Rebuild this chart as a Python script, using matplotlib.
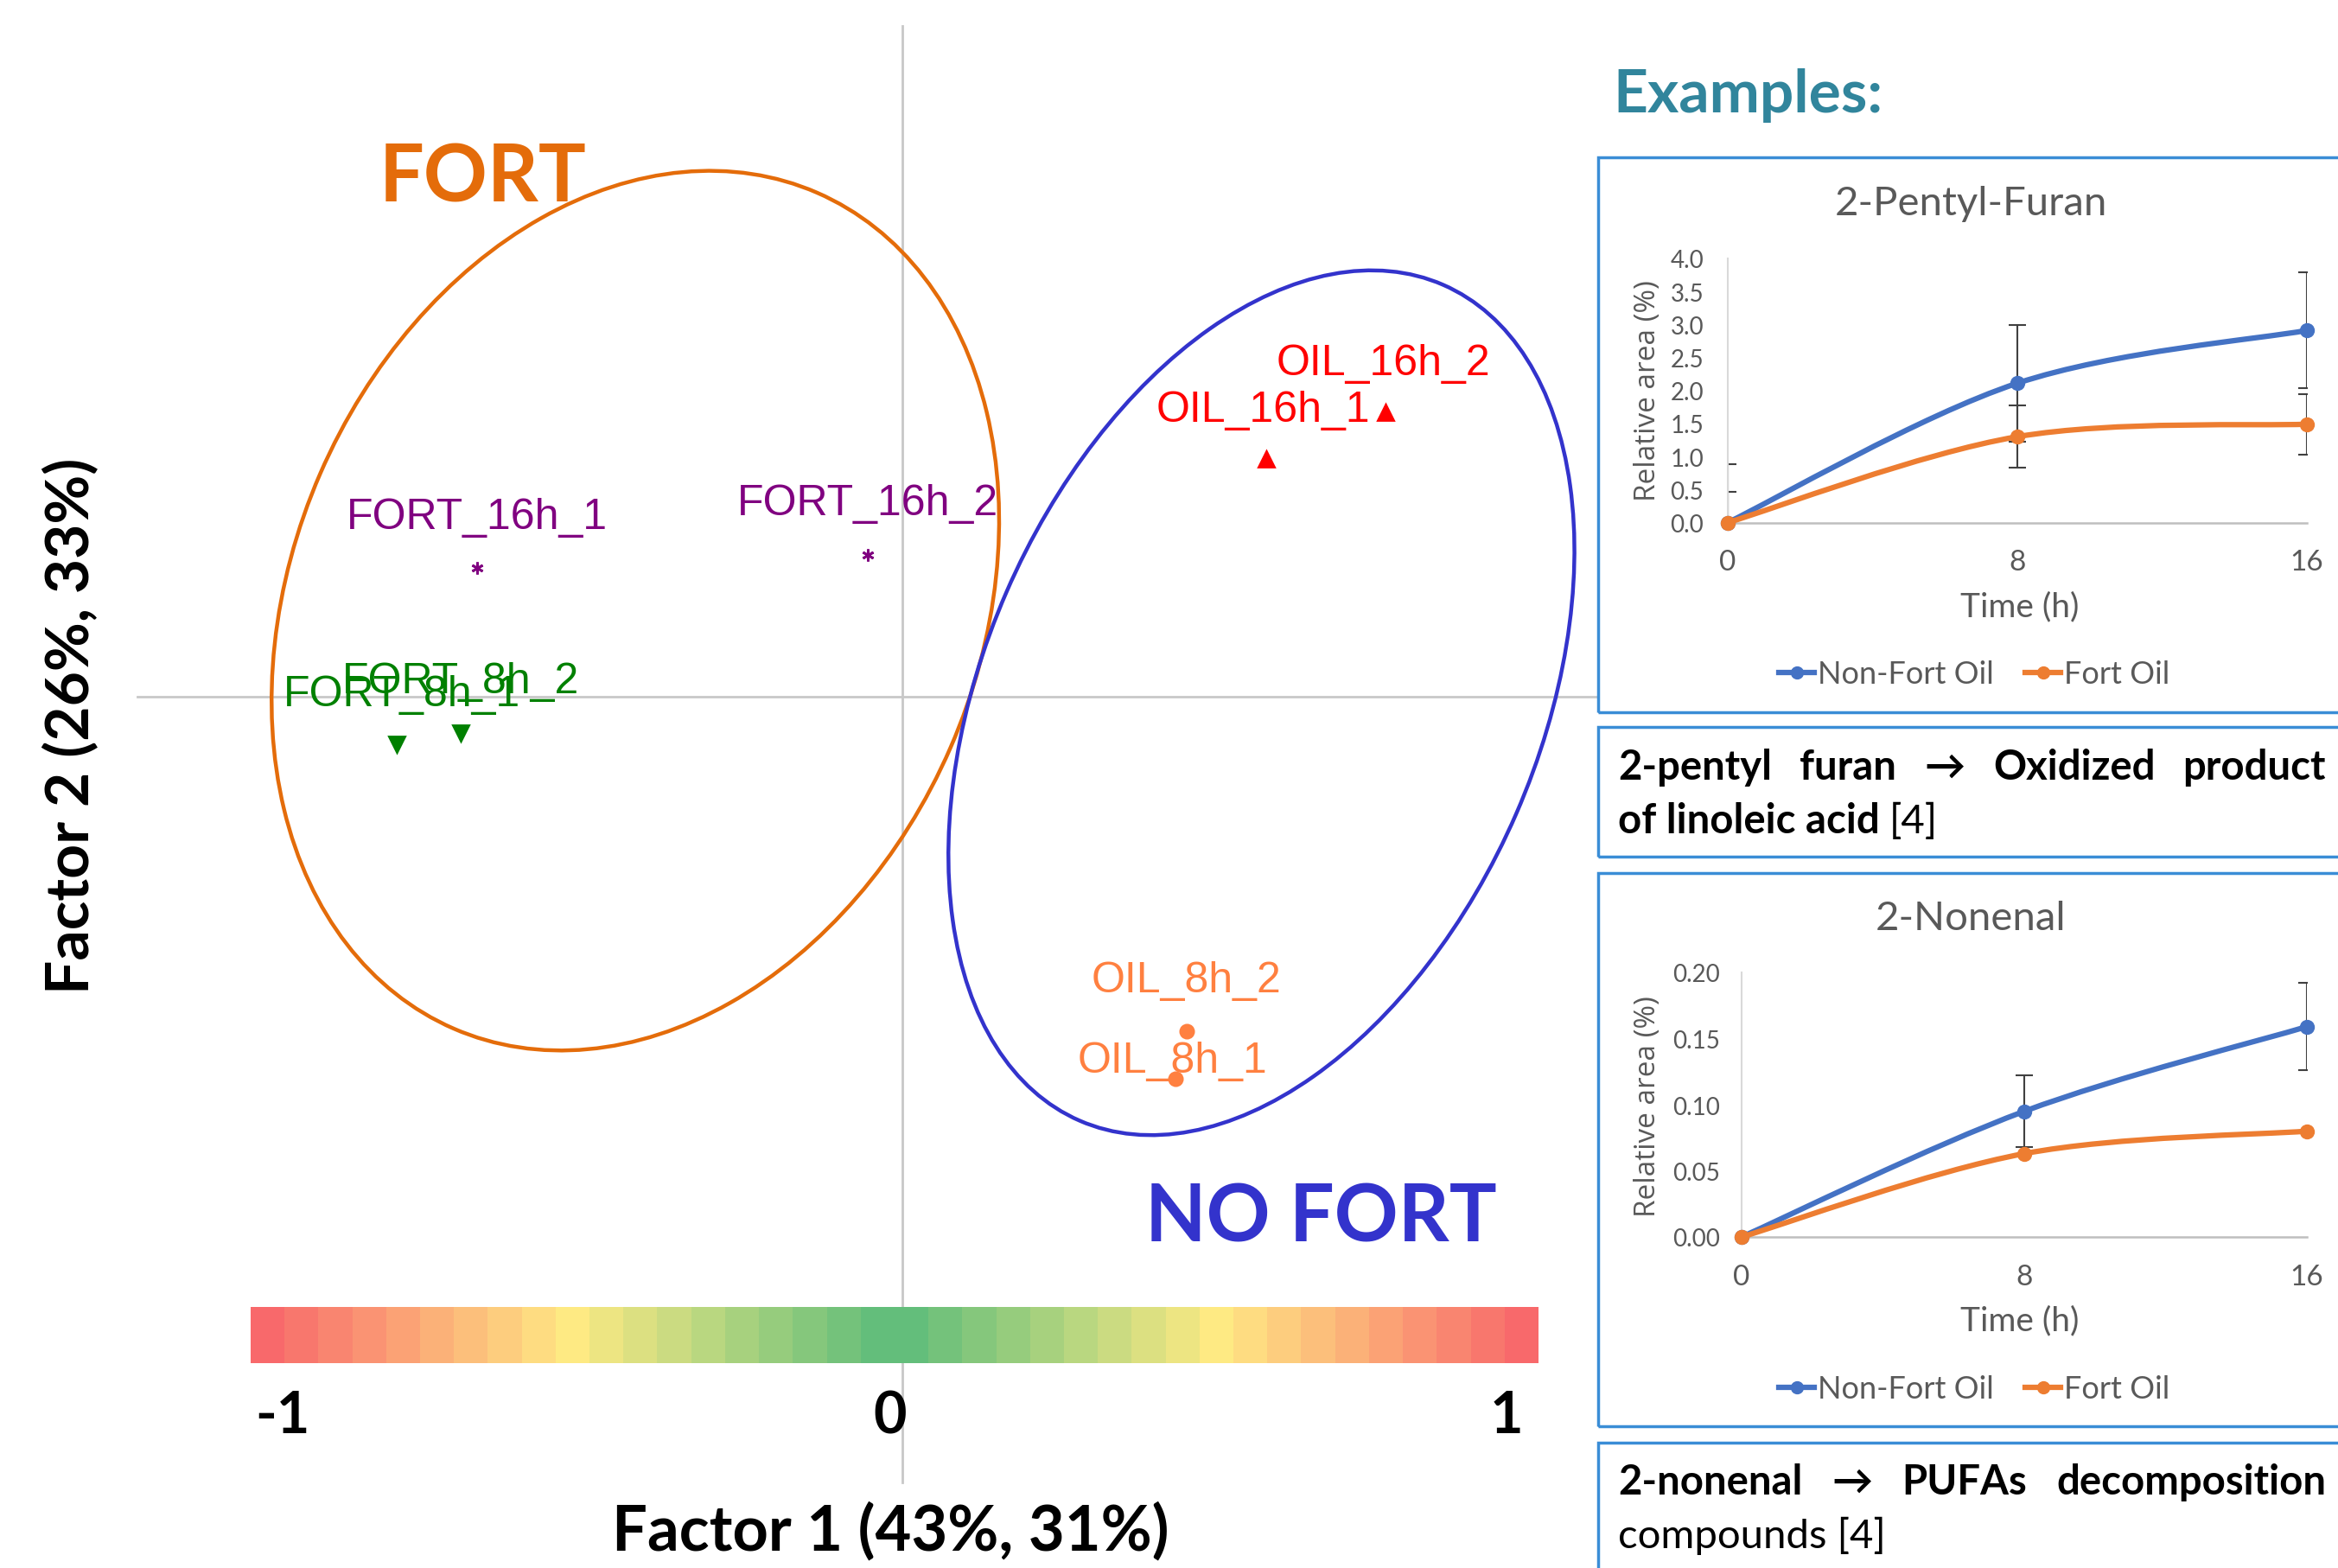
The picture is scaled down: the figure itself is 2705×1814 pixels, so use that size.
import numpy as np
import matplotlib
matplotlib.use("Agg")
import matplotlib.pyplot as plt
from matplotlib.patches import Ellipse, Rectangle, PathPatch
from matplotlib.path import Path
from matplotlib.lines import Line2D
from matplotlib.colors import LinearSegmentedColormap

# figure size in pixels (dpi 100)
W, H = 2705, 1815

# PCA scores of the samples (Factor 1, Factor 2)
sample_names = ["FORT_16h_1", "FORT_16h_2", "FORT_8h_1", "FORT_8h_2",
                "OIL_16h_1", "OIL_16h_2", "OIL_8h_1", "OIL_8h_2"]
sample_groups = ["FORT_16h", "FORT_16h", "FORT_8h", "FORT_8h",
                 "OIL_16h", "OIL_16h", "OIL_8h", "OIL_8h"]
factor1 = [-0.660, -0.053, -0.785, -0.685, 0.565, 0.750, 0.424, 0.442]
factor2 = [0.201, 0.220, -0.074, -0.056, 0.370, 0.442, -0.593, -0.519]

# group ellipses: centre, axis lengths, rotation
ellipse_names = ["FORT", "NO FORT"]
ellipse_cx = [-0.414, 0.558]
ellipse_cy = [0.134, -0.009]
ellipse_major = [1.415, 1.415]
ellipse_minor = [1.067, 0.863]
ellipse_angle = [66.5, 66.5]

# colour scale under the map
scale_labels = ["-1", "0", "1"]

# example compounds (relative area, %)
time_h = [0, 8, 16]
furan_nonfort = [0.0, 2.11, 2.91]
furan_fort = [0.0, 1.30, 1.49]
furan_nonfort_err = [0.88, 0.88, 0.88]
furan_fort_err = [0.47, 0.47, 0.46]
nonenal_nonfort = [0.0, 0.095, 0.159]
nonenal_fort = [0.0, 0.063, 0.080]
nonenal_nonfort_err = [0.0, 0.027, 0.033]
nonenal_fort_err = [0.0, 0.0, 0.0]

BLUE = "#4472C4"
ORANGE = "#ED7D31"
GREY_TXT = "#595959"
BOX = "#3A8DD6"


def fx(px):
    return px / W


def fy(py):
    return 1 - py / H


def smooth_path(x, y):
    # excel-like smoothed line: bezier segments through the data points
    pts = np.column_stack([x, y]).astype(float)
    n = len(pts)
    verts = [pts[0]]
    codes = [Path.MOVETO]
    for i in range(n - 1):
        p0 = pts[max(i - 1, 0)]
        p1 = pts[i]
        p2 = pts[i + 1]
        p3 = pts[min(i + 2, n - 1)]
        verts += [p1 + (p2 - p0) / 6, p2 - (p3 - p1) / 6, p2]
        codes += [Path.CURVE4] * 3
    return Path(verts, codes)


def draw_pca(fig):
    # origin of the map in pixels and pixels per unit
    ox, oy, scale = 1043.6, 807.3, 745.2
    ax = fig.add_axes([0, 0, fx(1849), 1])
    ax.set_xlim((0 - ox) / scale, (1849 - ox) / scale)
    ax.set_ylim((oy - H) / scale, oy / scale)
    ax.axis("off")

    # axis cross
    ax.plot([-1.1875, 1.2], [0, 0], color="#C8C8C8", lw=2, zorder=1)
    ax.plot([0, 0], [1.042, -1.22], color="#C8C8C8", lw=2, zorder=1)

    ell_colors = ["#E46C0A", "#3333CC"]
    for i in range(len(ellipse_names)):
        e = Ellipse((ellipse_cx[i], ellipse_cy[i]), ellipse_major[i], ellipse_minor[i],
                    angle=ellipse_angle[i], fill=False, edgecolor=ell_colors[i], lw=3.2, zorder=2)
        ax.add_patch(e)

    style = {"FORT_16h": ("#800080", (6, 2, 0), 10),
             "FORT_8h": ("#008000", "v", 13),
             "OIL_16h": ("#FF0000", "^", 13),
             "OIL_8h": ("#FF8040", "o", 11)}
    # label offsets in pixels (the two FORT_8h labels overlap, as in the source)
    label_dx = [0, 0, 6, 0, -3, -2, -3, 0]
    label_dy = [59, 60, 58, 60, 57, 57, 21, 59]
    for i, name in enumerate(sample_names):
        col, mk, ms = style[sample_groups[i]]
        ax.plot(factor1[i], factor2[i], marker=mk, color=col, ms=ms, mew=2, ls="none", zorder=3)
        ax.annotate(name, (factor1[i], factor2[i]), xytext=(label_dx[i], label_dy[i]),
                    textcoords="offset pixels", ha="center", va="center", color=col,
                    fontsize=36, family="Liberation Sans", zorder=4)

    fig.text(fx(559), fy(207), ellipse_names[0], color="#E46C0A", fontsize=66,
             fontweight="bold", ha="center", va="center")
    fig.text(fx(1528), fy(1411), ellipse_names[1], color="#3333CC", fontsize=66,
             fontweight="bold", ha="center", va="center")

    fig.text(fx(1030), fy(1772), "Factor 1 (43%, 31%)", fontsize=52, fontweight="bold",
             ha="center", va="center")
    fig.text(fx(83), fy(840), "Factor 2 (26%, 33%)", fontsize=50, fontweight="bold",
             ha="center", va="center", rotation=90)


def draw_scale(fig):
    cmap = LinearSegmentedColormap.from_list("rg", ["#63BE7B", "#FFEB84", "#F8696B"])
    cax = fig.add_axes([fx(290), fy(1578), (1780 - 290) / W, 65 / H])
    # 38 blocks, green in the middle, red at both ends
    blocks = np.abs(np.arange(38) - 18.5) - 0.5
    cax.imshow(blocks[None, :], cmap=cmap, vmin=0, vmax=18, extent=[-1, 1, 0, 1],
               aspect="auto", interpolation="nearest")
    cax.set_xlim(-1, 1)
    cax.axis("off")
    pos = [-0.95, -0.007, 0.95]
    for p, lab in zip(pos, scale_labels):
        cax.text(p, -0.94, lab, transform=cax.get_xaxis_transform(), ha="center",
                 va="center", fontsize=48, fontweight="bold")


def draw_inset(fig, rect, title, title_y, ylim, yticks, yfmt,
               nonfort, fort, nonfort_err, fort_err, label_y, xlabel_y, legend_y, ypad):
    ax = fig.add_axes(rect)
    ax.set_facecolor("none")
    ax.set_xlim(0, 16)
    ax.set_ylim(*ylim)
    ax.set_xticks(time_h)
    ax.set_yticks(yticks)
    ax.set_yticklabels([yfmt % v for v in yticks])
    for s in ["top", "right"]:
        ax.spines[s].set_visible(False)
    ax.spines["left"].set_color("#D9D9D9")
    ax.spines["bottom"].set_color("#BFBFBF")
    ax.spines["left"].set_linewidth(1.5)
    ax.spines["bottom"].set_linewidth(1.8)
    ax.tick_params(axis="both", length=0, colors=GREY_TXT)
    ax.tick_params(axis="y", labelsize=20, pad=ypad)
    ax.tick_params(axis="x", labelsize=24, pad=22)

    # error bars first, then smoothed lines and markers
    if any(nonfort_err):
        ax.errorbar(time_h, nonfort, yerr=nonfort_err, fmt="none", ecolor="#404040",
                    elinewidth=1.5, capsize=7, capthick=1.5, zorder=2)
    if any(fort_err):
        ax.errorbar(time_h, fort, yerr=fort_err, fmt="none", ecolor="#404040",
                    elinewidth=1.5, capsize=7, capthick=1.5, zorder=2)
    for vals, col, z in [(nonfort, BLUE, 3), (fort, ORANGE, 4)]:
        ax.add_patch(PathPatch(smooth_path(time_h, vals), fill=False, edgecolor=col,
                               lw=4.5, capstyle="round", clip_on=False, zorder=z))
        ax.plot(time_h, vals, "o", color=col, ms=11.5, clip_on=False, zorder=z + 0.5)

    fig.text(fx(2280), fy(title_y), title, fontsize=34, color=GREY_TXT, ha="center", va="center")
    fig.text(fx(1906), fy(label_y), "Relative area (%)", fontsize=24, color=GREY_TXT,
             family="Open Sans", rotation=90, ha="center", va="center")
    fig.text(fx(2337), fy(xlabel_y), "Time (h)", fontsize=28, color=GREY_TXT,
             ha="center", va="center")

    handles = [Line2D([], [], color=BLUE, lw=4.5, marker="o", ms=10),
               Line2D([], [], color=ORANGE, lw=4.5, marker="o", ms=10)]
    ax.legend(handles, ["Non-Fort Oil", "Fort Oil"], loc="center",
              bbox_to_anchor=(fx(2284), fy(legend_y)), bbox_transform=fig.transFigure,
              ncol=2, frameon=False, fontsize=26, labelcolor=GREY_TXT,
              handlelength=1.15, handletextpad=0.1, columnspacing=1.0)


def justify_line(fig, renderer, words, x0, x1, y, weight):
    texts = [fig.text(0, fy(y), w, fontsize=34, fontweight=weight, va="center", ha="left",
                      family=["Lato", "DejaVu Sans"]) for w in words]
    widths = [t.get_window_extent(renderer).width for t in texts]
    gap = (x1 - x0 - sum(widths)) / (len(words) - 1)
    x = x0
    for t, w in zip(texts, widths):
        t.set_x(fx(x))
        x += w + gap


def plain_line(fig, renderer, parts, x0, y):
    # parts: list of (text, weight) written one after another
    x = x0
    for txt, weight in parts:
        t = fig.text(fx(x), fy(y), txt, fontsize=34, fontweight=weight, va="center", ha="left")
        x += t.get_window_extent(renderer).width


def draw_examples(fig):
    fig.text(fx(1866), fy(110), "Examples:", fontsize=50, fontweight="bold",
             color="#31859C", ha="left", va="center")

    # frames around the example panels (they run past the right edge)
    for top, bottom in [(183, 825), (842, 992), (1011, 1651), (1670, 1840)]:
        fig.add_artist(Rectangle((fx(1849), fy(bottom)), fx(900), (bottom - top) / H,
                                 transform=fig.transFigure, fill=False, edgecolor=BOX, lw=2.5))

    draw_inset(fig, [fx(1999), fy(605.5), 670 / W, 305.5 / H], "2-Pentyl-Furan", 236,
               (0, 4), np.arange(0, 4.01, 0.5), "%.1f",
               furan_nonfort, furan_fort, furan_nonfort_err, furan_fort_err,
               452, 702, 781, 20)
    draw_inset(fig, [fx(2015), fy(1432), 654 / W, 306 / H], "2-Nonenal", 1063,
               (0, 0.2), np.arange(0, 0.201, 0.05), "%.2f",
               nonenal_nonfort, nonenal_fort, nonenal_nonfort_err, nonenal_fort_err,
               1280, 1528, 1608, 18)

    renderer = fig.canvas.get_renderer()
    justify_line(fig, renderer, ["2-pentyl", "furan", "\u2192", "Oxidized", "product"],
                 1872, 2691, 888, "bold")
    plain_line(fig, renderer, [("of linoleic acid ", "bold"), ("[4]", "normal")], 1872, 950)
    justify_line(fig, renderer, ["2-nonenal", "\u2192", "PUFAs", "decomposition"],
                 1872, 2691, 1715, "bold")
    plain_line(fig, renderer, [("compounds [4]", "normal")], 1872, 1777)


def main():
    plt.rcParams["font.family"] = ["Lato", "DejaVu Sans"]
    fig = plt.figure(figsize=(W / 100, H / 100), dpi=100)
    fig.patch.set_facecolor("white")
    draw_pca(fig)
    draw_scale(fig)
    draw_examples(fig)
    fig.savefig("out.png", dpi=100)


main()
